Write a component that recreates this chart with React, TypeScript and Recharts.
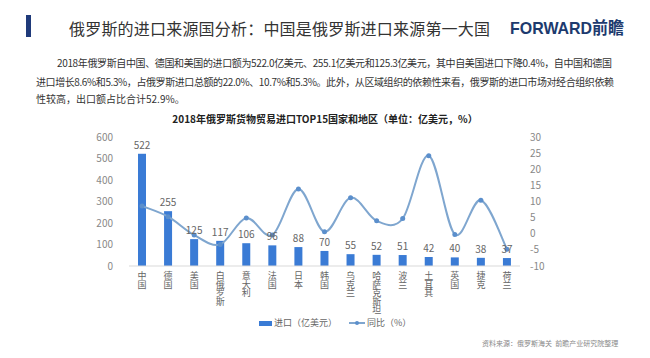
import React from 'react';
import {
  ComposedChart,
  Bar,
  Line,
  XAxis,
  YAxis,
  LabelList,
} from 'recharts';

const categories = ['中国', '德国', '美国', '白俄罗斯', '意大利', '法国', '日本', '韩国', '乌克兰', '哈萨克斯坦', '波兰', '土耳其', '英国', '捷克', '荷兰'];
const imports = [522, 255, 125, 117, 106, 96, 88, 70, 55, 52, 51, 42, 40, 38, 37];
const yoy = [8.6, 5.3, -0.4, -3.3, 4.9, -0.4, 13.9, 0.6, 11.2, 4.0, 4.7, 24.2, -0.2, 10.4, -4.8];
const leftTicks = [0, 100, 200, 300, 400, 500, 600];
const rightTicks = [-10, -5, 0, 5, 10, 15, 20, 25, 30];

const data = categories.map((name, i) => ({ name, imports: imports[i], yoy: yoy[i] }));

const FONT = '"Noto Sans CJK SC", "Noto Sans", sans-serif';
const BAR_COLOR = '#3a7bd5';
const LINE_COLOR = '#7fa6cf';

// smooth line like the office-chart "smoothed line" (catmull-rom style)
const smoothCurve = (context: any) => {
  let pts: number[][] = [];
  return {
    areaStart() {},
    areaEnd() {},
    lineStart() { pts = []; },
    point(x: number, y: number) { pts.push([+x, +y]); },
    lineEnd() {
      if (!pts.length) return;
      context.moveTo(pts[0][0], pts[0][1]);
      const t = 1 / 6;
      for (let i = 0; i < pts.length - 1; i++) {
        const p0 = pts[i - 1] || pts[i];
        const p1 = pts[i];
        const p2 = pts[i + 1];
        const p3 = pts[i + 2] || p2;
        context.bezierCurveTo(
          p1[0] + (p2[0] - p0[0]) * t,
          p1[1] + (p2[1] - p0[1]) * t,
          p2[0] - (p3[0] - p1[0]) * t,
          p2[1] - (p3[1] - p1[1]) * t,
          p2[0],
          p2[1]
        );
      }
    },
  };
};

const VerticalTick = (props: any) => {
  const { x, y, payload } = props;
  const chars = String(payload.value).split('');
  return (
    <text x={x} y={y} textAnchor="middle" fill="#666" fontSize={9} fontFamily={FONT}>
      {chars.map((c, i) => (
        <tspan key={i} x={x} dy={i === 0 ? 9 : 8.6}>{c}</tspan>
      ))}
    </text>
  );
};

const App: React.FC = () => {
  return (
    <div style={{ position: 'absolute', left: 0, top: 0, width: 650, height: 358, background: '#fff', fontFamily: FONT, overflow: 'hidden' }}>
      {/* header + paragraph */}
      <svg width={650} height={110} style={{ position: 'absolute', left: 0, top: 0 }} fontFamily={FONT}>
        <rect x={26} y={15} width={5} height={22} fill="#1f3a7a" />
        <text x={69} y={35} fontSize={16} fill="#333" textLength={421} lengthAdjust="spacing">
          俄罗斯的进口来源国分析：中国是俄罗斯进口来源第一大国
        </text>
        <text x={510} y={34} fontSize={17} fontWeight={700} fill="#1d3a6e" textLength={114} lengthAdjust="spacingAndGlyphs" fontFamily='"Liberation Sans", "Noto Sans CJK SC", sans-serif'>
          FORWARD前瞻
        </text>
        <text x={57} y={67} fontSize={10} fill="#333" textLength={555} lengthAdjust="spacing">
          2018年俄罗斯自中国、德国和美国的进口额为522.0亿美元、255.1亿美元和125.3亿美元，其中自美国进口下降0.4%，自中国和德国
        </text>
        <text x={36} y={86} fontSize={10} fill="#333" textLength={578} lengthAdjust="spacing">
          进口增长8.6%和5.3%，占俄罗斯进口总额的22.0%、10.7%和5.3%。此外，从区域组织的依赖性来看，俄罗斯的进口市场对经合组织依赖
        </text>
        <text x={36} y={103} fontSize={10} fill="#333">
          性较高，出口额占比合计52.9%。
        </text>
      </svg>

      {/* chart title */}
      <div style={{ position: 'absolute', left: 0, width: 650, top: 111, textAlign: 'center', fontSize: 10, fontWeight: 700, color: '#222', lineHeight: '16px' }}>
        2018年俄罗斯货物贸易进口TOP15国家和地区（单位：亿美元，%）
      </div>

      <div style={{ position: 'absolute', left: 0, top: 0 }}>
        <ComposedChart
          width={650}
          height={358}
          data={data}
          margin={{ top: 137, right: 90, bottom: 32, left: 89 }}
          barCategoryGap={0}
        >
          <XAxis
            dataKey="name"
            interval={0}
            height={60}
            tick={<VerticalTick />}
            tickLine={false}
            axisLine={{ stroke: '#d9d9d9' }}
            tickSize={0}
            tickMargin={4}
          />
          <YAxis
            yAxisId="left"
            orientation="left"
            width={40}
            domain={[0, 600]}
            ticks={leftTicks}
            axisLine={false}
            tickLine={false}
            tickSize={0}
            tickMargin={16}
            tick={{ fontSize: 10, fill: '#888', fontFamily: FONT }}
          />
          <YAxis
            yAxisId="right"
            orientation="right"
            width={40}
            domain={[-10, 30]}
            ticks={rightTicks}
            axisLine={false}
            tickLine={false}
            tickSize={0}
            tickMargin={10}
            tick={{ fontSize: 10, fill: '#888', fontFamily: FONT }}
          />
          <Bar yAxisId="left" dataKey="imports" fill={BAR_COLOR} barSize={8} isAnimationActive={false}>
            <LabelList dataKey="imports" position="top" offset={5} fill="#666" fontSize={10} fontFamily={FONT} />
          </Bar>
          <Line
            yAxisId="right"
            dataKey="yoy"
            type={smoothCurve as any}
            stroke={LINE_COLOR}
            strokeWidth={2}
            dot={{ r: 2.5, fill: '#5b8fcc', stroke: '#5b8fcc', strokeWidth: 0 }}
            activeDot={false}
            isAnimationActive={false}
          />
        </ComposedChart>
      </div>

      {/* legend */}
      <div style={{ position: 'absolute', left: 259, top: 315, display: 'flex', alignItems: 'center', fontSize: 9, color: '#666', lineHeight: '16px', whiteSpace: 'nowrap' }}>
        <span style={{ display: 'inline-block', width: 13, height: 5, background: BAR_COLOR, marginRight: 2 }} />
        <span>进口（亿美元）</span>
        <span style={{ display: 'inline-block', position: 'relative', width: 16, height: 6, marginLeft: 12, marginRight: 2 }}>
          <span style={{ position: 'absolute', left: 0, top: 2, width: 16, height: 2, background: LINE_COLOR }} />
          <span style={{ position: 'absolute', left: 6, top: 1, width: 4, height: 4, borderRadius: 2, background: '#5b8fcc' }} />
        </span>
        <span>同比（%）</span>
      </div>

      {/* source */}
      <div style={{ position: 'absolute', left: 482, top: 336, fontSize: 7, color: '#888', lineHeight: '14px', whiteSpace: 'nowrap' }}>
        资料来源：俄罗斯海关&nbsp;&nbsp;前瞻产业研究院整理
      </div>
    </div>
  );
};

export default App;
